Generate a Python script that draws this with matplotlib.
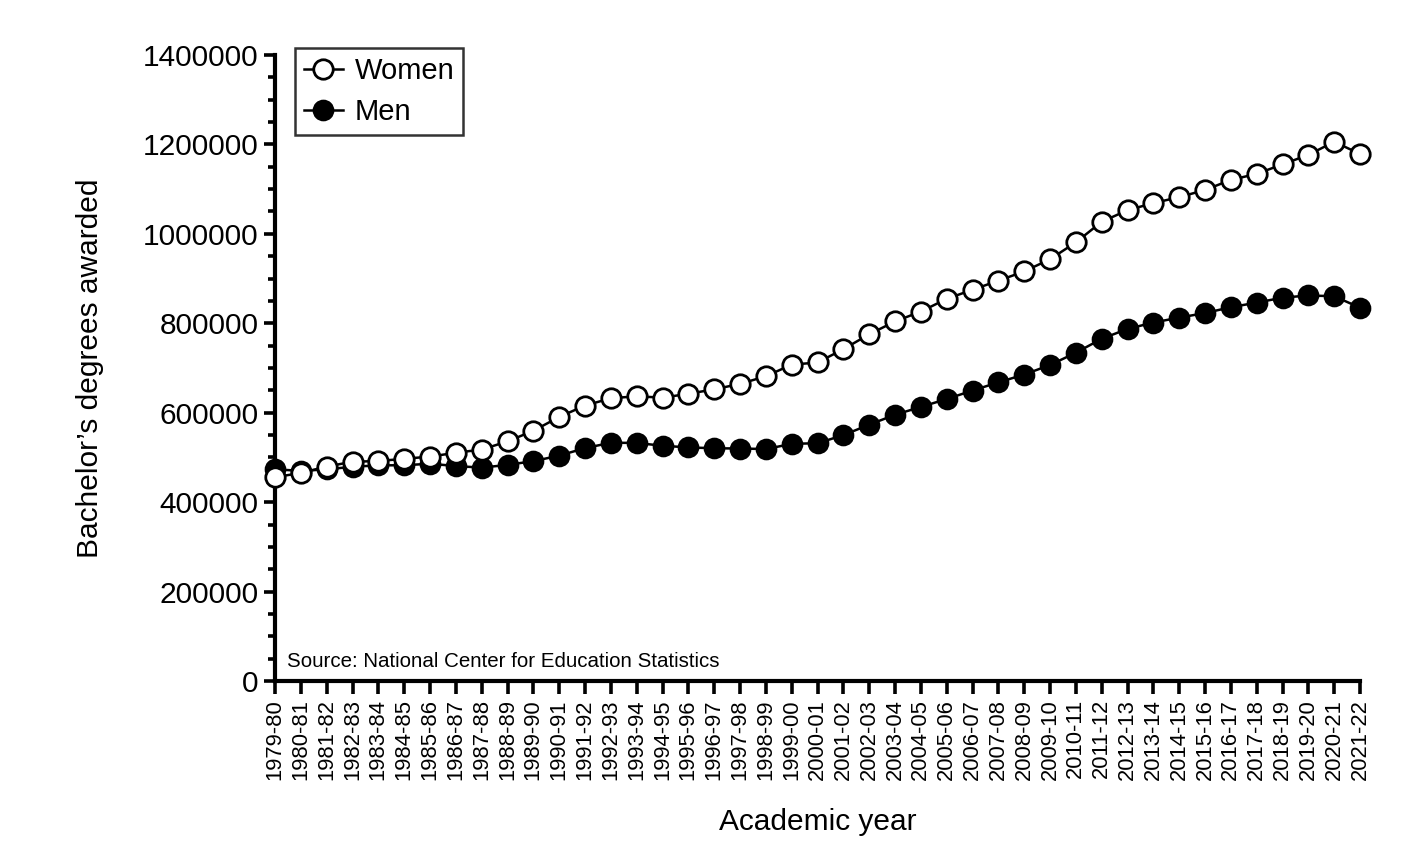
import matplotlib
matplotlib.use("Agg")
import matplotlib.pyplot as plt
from matplotlib.ticker import MultipleLocator, FixedLocator

plt.rcParams['font.family'] = ['Liberation Sans', 'DejaVu Sans']

years = ["1979-80", "1980-81", "1981-82", "1982-83", "1983-84", "1984-85",
         "1985-86", "1986-87", "1987-88", "1988-89", "1989-90", "1990-91",
         "1991-92", "1992-93", "1993-94", "1994-95", "1995-96", "1996-97",
         "1997-98", "1998-99", "1999-00", "2000-01", "2001-02", "2002-03",
         "2003-04", "2004-05", "2005-06", "2006-07", "2007-08", "2008-09",
         "2009-10", "2010-11", "2011-12", "2012-13", "2013-14", "2014-15",
         "2015-16", "2016-17", "2017-18", "2018-19", "2019-20", "2020-21",
         "2021-22"]

women = [455806, 465257, 479634, 490370, 491990, 496949, 501900, 510482,
         517626, 535844, 559648, 590493, 616076, 632297, 636853, 633630,
         642338, 652364, 664450, 681557, 707508, 712331, 742084, 775424,
         804117, 826264, 854642, 875022, 895248, 915986, 943259, 981017,
         1026988, 1052918, 1068781, 1082064, 1098146, 1120639, 1134202,
         1155394, 1176606, 1205887, 1178692]

men = [473611, 469883, 473364, 479140, 482319, 482528, 485923, 480782,
       477203, 483346, 491696, 504045, 520811, 532881, 532422, 526131,
       522454, 520515, 519956, 518746, 530367, 531840, 549816, 573258,
       595425, 613000, 630600, 649570, 667928, 685382, 706660, 734159,
       765317, 787408, 801692, 812669, 822918, 835933, 846260, 857292,
       862214, 860483, 834896]

fig = plt.figure(figsize=(14.28, 8.66), dpi=100, facecolor='white')
ax = fig.add_axes([0.1926, 0.2136, 0.7598, 0.7229])

x = list(range(len(years)))
ax.plot(x, men, color='black', lw=1.8, marker='o', ms=14, label='Men',
        mfc='black', mec='black', mew=1.6, clip_on=False, zorder=3)
ax.plot(x, women, color='black', lw=1.8, marker='o', ms=14, label='Women',
        mfc='white', mec='black', mew=2.0, clip_on=False, zorder=4)

ax.set_xlim(0, len(years) - 1)
ax.set_ylim(0, 1400000)
ax.yaxis.set_major_locator(MultipleLocator(200000))
ax.yaxis.set_minor_locator(MultipleLocator(50000))
ax.xaxis.set_major_locator(FixedLocator(x))
ax.set_xticklabels(years, rotation=90, fontsize=15.8)
ax.tick_params(axis='y', which='major', labelsize=21.5, length=8, width=2.6, pad=4)
ax.tick_params(axis='y', which='minor', length=5, width=2.6)
ax.tick_params(axis='x', which='major', length=9, width=2.6, pad=4)
ax.yaxis.set_major_formatter(matplotlib.ticker.FuncFormatter(lambda v, p: f"{int(v)}"))

for s in ['top', 'right']:
    ax.spines[s].set_visible(False)
for s in ['left', 'bottom']:
    ax.spines[s].set_linewidth(3.0)

ax.set_ylabel("Bachelor\u2019s degrees awarded", fontsize=21.5)
ax.yaxis.set_label_coords(-0.158, 0.5)
ax.set_xlabel("Academic year", fontsize=21.5, labelpad=20)

ax.text(0.011, 0.016, "Source: National Center for Education Statistics",
        transform=ax.transAxes, fontsize=14.8, ha='left', va='bottom')

handles, labels = ax.get_legend_handles_labels()
leg = ax.legend(handles[::-1], labels[::-1], loc='upper left',
                bbox_to_anchor=(295 / 1428, 1 - 48 / 866), bbox_transform=fig.transFigure,
                fontsize=21, frameon=True, fancybox=False, handlelength=1.35,
                handletextpad=0.4, borderpad=0.3, labelspacing=0.45, borderaxespad=0)
leg.get_frame().set_edgecolor('black')
leg.get_frame().set_linewidth(1.8)

fig.savefig('out.png', dpi=100, facecolor='white')
